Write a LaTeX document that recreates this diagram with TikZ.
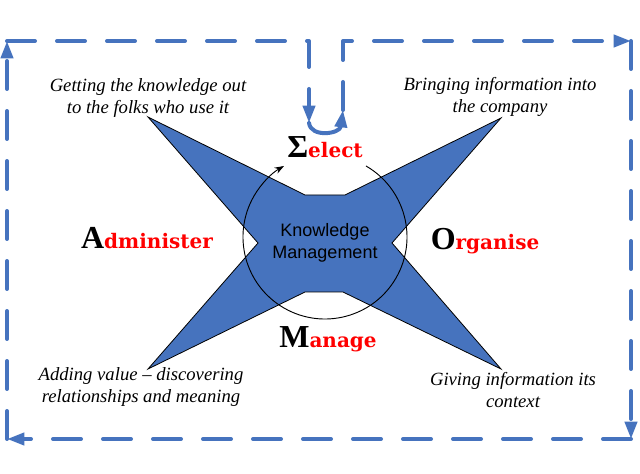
\documentclass[tikz,border=0pt]{standalone}
\usepackage{fontspec}
\setmainfont{Liberation Serif}
\newfontfamily\stagefont{DejaVu Serif}
\newfontfamily\kmfont{Liberation Sans}
\usepackage{xcolor}
\usepackage{tikz}
\usetikzlibrary{arrows.meta}

\definecolor{kmblue}{RGB}{70,115,190}
\definecolor{kmred}{RGB}{255,0,0}

% big black initial, rest of the word in red
\newcommand{\stagelabel}[2]{{\rmfamily\fontsize{24}{24}\selectfont #1}{\color{kmred}\fontsize{15}{15}\selectfont #2}}

\tikzset{
  flow/.style={draw=kmblue, line width=3pt, dash pattern=on 21pt off 16.5pt,
    line cap=round, line join=round, -{Triangle[length=13pt,width=9pt]}},
  note/.style={align=center, font=\fontsize{14}{16.5}\selectfont\itshape},
  stage/.style={anchor=base, inner sep=0pt, font=\stagefont\bfseries},
}

\begin{document}
\begin{tikzpicture}[x=0.75pt, y=-0.75pt]
\useasboundingbox (0,0) rectangle (640,474);

\filldraw [fill=kmblue, draw=black, line width=0.6pt]
  (148,117) -- (305,195) -- (345,195) -- (501,118) -- (392,243) -- (501,369)
  -- (343,292) -- (305,292) -- (148,369) -- (258,243) -- cycle;

\node (km) at (325,243) [align=center, font=\kmfont\fontsize{13.5}{17}\selectfont] {Knowledge\\Management};

\coordinate (hub) at (325,237);
\draw [line width=0.7pt, -{Stealth[length=7pt,width=5pt]}] (hub) ++(-60:82) arc [start angle=-60, end angle=240, radius=82];

\node (select) at (325,158) [stage] {\stagelabel{Σ}{elect}};
\node (administer) at (147,249) [stage] {\stagelabel{A}{dminister}};
\node (organise) at (485,250) [stage] {\stagelabel{O}{rganise}};
\node (manage) at (328,348) [stage] {\stagelabel{M}{anage}};

\node (deliver) at (148,98) [note] {Getting the knowledge out\\to the folks who use it};
\node (gather) at (500,97) [note] {Bringing information into\\the company};
\node (enrich) at (141,387) [note] {Adding value -- discovering\\relationships and meaning};
\node (context) at (513,390) [note] {Giving information its\\context};

\coordinate (nw) at (7,41);
\coordinate (ne) at (631,41);
\coordinate (se) at (631,439);
\coordinate (sw) at (7,439);
\coordinate (dip) at (309,123);
\coordinate (rise) at (343,110);

\draw [flow] (rise) |- (ne);
\draw [flow] (ne) -- (se);
\draw [flow] (se) -- (sw);
\draw [flow] (sw) -- (nw);
\draw [flow] (nw) -| (dip);
\draw [flow, solid] (dip) .. controls (311,138) and (340,134) .. (rise);
\end{tikzpicture}
\end{document}
